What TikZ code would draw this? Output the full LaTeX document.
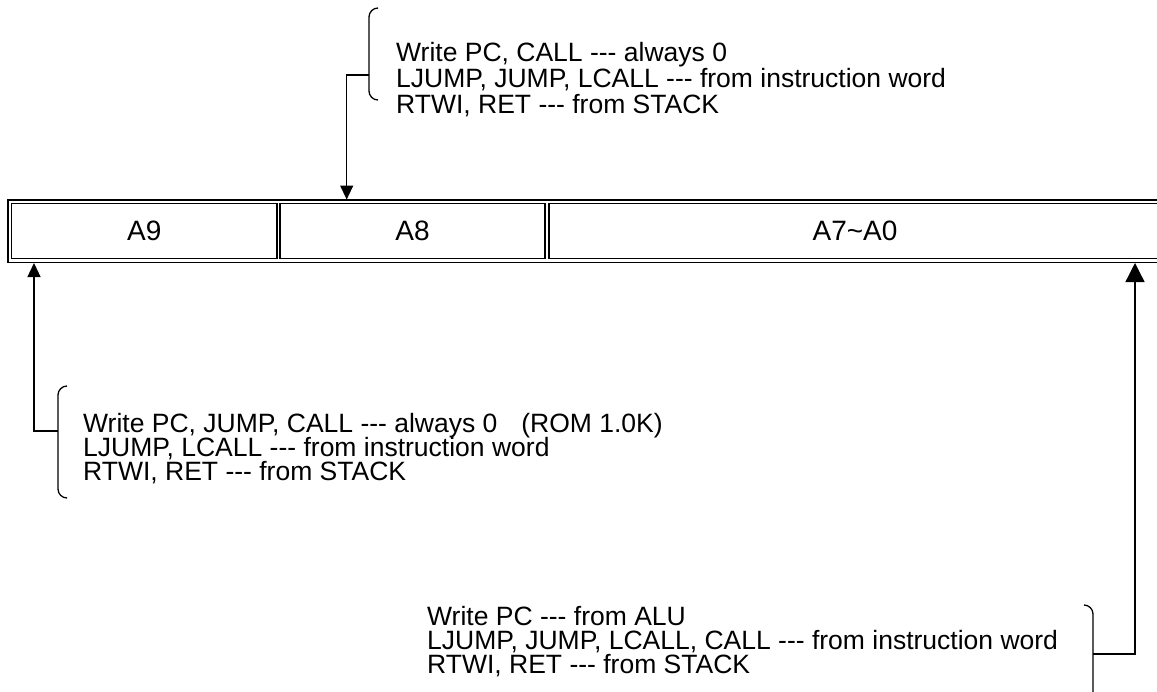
\documentclass[tikz,border=0pt]{standalone}
\usepackage{fontspec}
\setmainfont{Liberation Sans}[Ligatures=TeXOff]
\usetikzlibrary{arrows.meta}
\begin{document}
\begin{tikzpicture}[x=1pt,y=-1pt,
  cell/.style={draw,line width=1.5pt,rectangle,inner sep=0pt,font=\fontsize{28}{30}\selectfont},
  frame/.style={draw,line width=1.5pt},
  txt/.style={anchor=base west,inner sep=0pt,font=\fontsize{26.5}{26}\selectfont},
  brk/.style={line width=1.3pt,rounded corners=9pt},
  conn/.style={line width=1.3pt},
  arr/.style={conn,-{Triangle[width=13pt,length=14pt]}},
  bigarr/.style={conn,-{Triangle[width=19pt,length=19pt]}}]
\useasboundingbox (0,0) rectangle (1157,691);
\begin{scope}
\clip (0,0) rectangle (1157,691);
% register
\draw[frame] (8,200) rectangle (1170,262.5);
\node[cell,minimum width=265.5pt,minimum height=55pt] (c9) at (144.25,231) {A9};
\node[cell,minimum width=265pt,minimum height=55pt] (c8) at (412.5,231) {A8};
\node[cell,minimum width=612pt,minimum height=55pt] (c7) at (855,231) {A7\char`\~A0};
\end{scope}
% top annotation
\node[txt] (t1) at (396,61) {Write PC, CALL --- always 0};
\node[txt] (t2) at (396,87) {LJUMP, JUMP, LCALL --- from instruction word};
\node[txt] (t3) at (396,113) {RTWI, RET --- from STACK};
\draw[brk] (378,8) -- (369,8) -- (369,100) -- (378,100);
\coordinate (tj) at (369,75);
\coordinate (tend) at (346.7,199.5);
\draw[arr] (tj) -| (tend);
% bottom-left annotation
\node[txt] (l1) at (83,432) {Write PC, JUMP, CALL --- always 0\hspace{0.9em}(ROM 1.0K)};
\node[txt] (l2) at (83,456) {LJUMP, LCALL --- from instruction word};
\node[txt] (l3) at (83,480) {RTWI, RET --- from STACK};
\draw[brk] (67,386) -- (58,386) -- (58,498) -- (67,498);
\coordinate (lj) at (58,431);
\coordinate (lend) at (34,263);
\draw[arr] (lj) -| (lend);
% bottom-right annotation
\node[txt] (r1) at (427,625) {Write PC --- from ALU};
\node[txt] (r2) at (427,649) {LJUMP, JUMP, LCALL, CALL --- from instruction word};
\node[txt] (r3) at (427,673) {RTWI, RET --- from STACK};
\draw[brk] (1084,605) -- (1093,605) -- (1093,720);
\coordinate (rj) at (1093,654);
\coordinate (rend) at (1135,263);
\draw[bigarr] (rj) -| (rend);
\end{tikzpicture}
\end{document}
